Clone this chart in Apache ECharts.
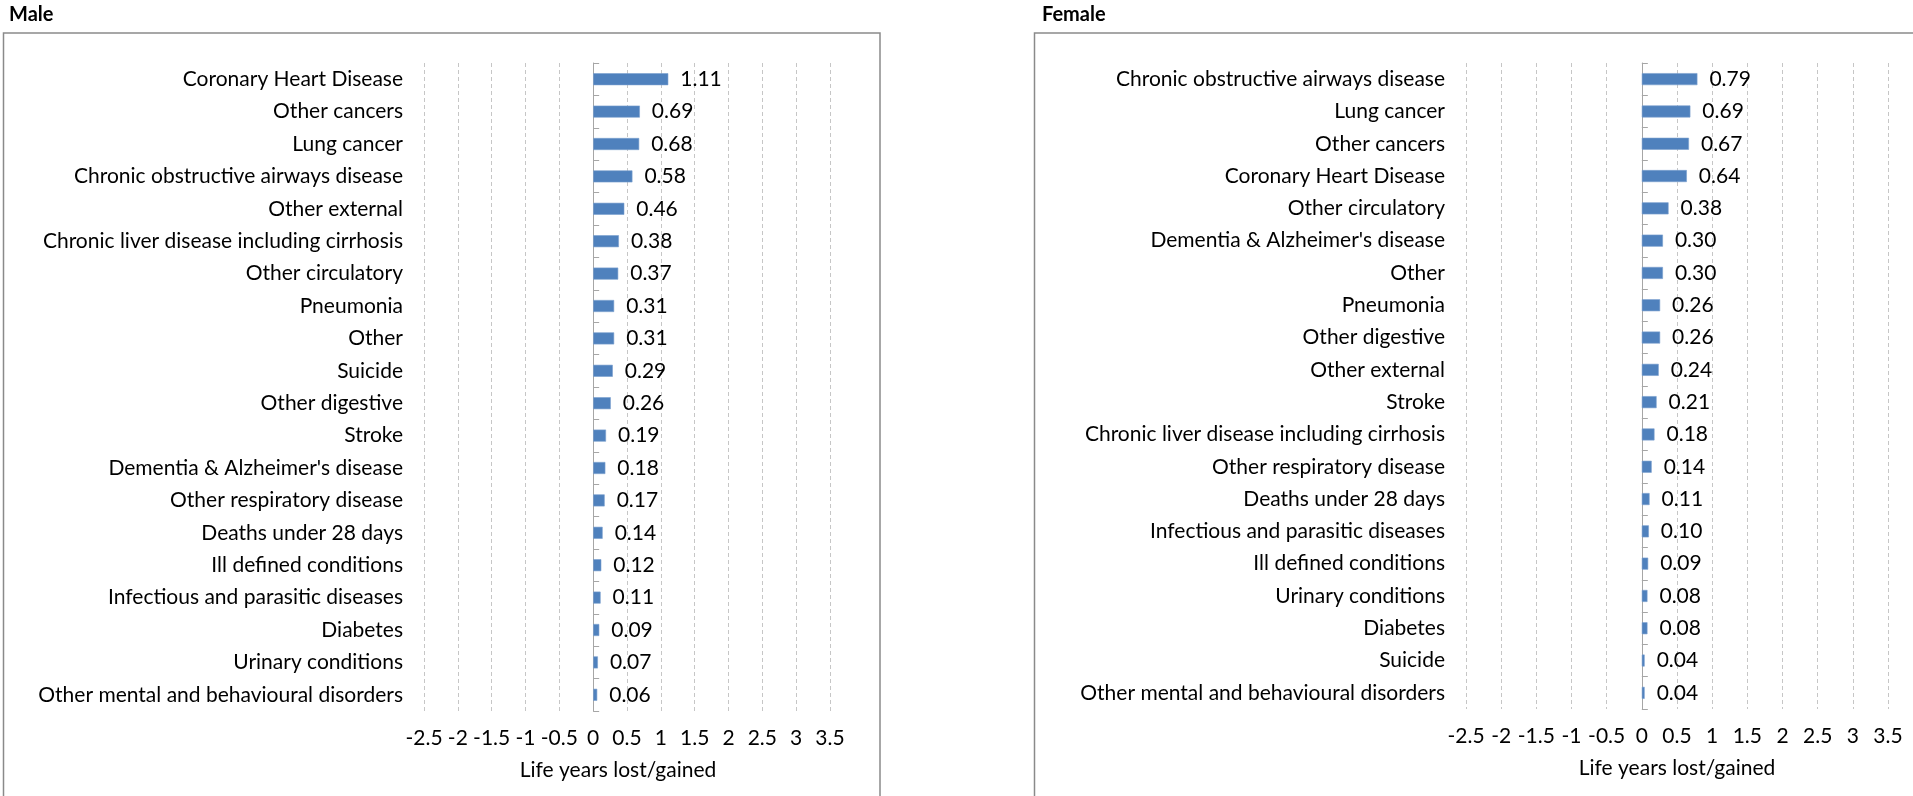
<!DOCTYPE html>
<html>
<head>
<meta charset="utf-8">
<script src="https://cdn.jsdelivr.net/npm/echarts@6/dist/echarts.min.js"></script>
<style>
  html, body { margin: 0; padding: 0; background: #ffffff; }
  #chart { width: 1913px; height: 796px; }
</style>
</head>
<body>
<div id="chart"></div>
<script>
// Life years lost/gained by cause of death
const maleCauses = [
  "Coronary Heart Disease", "Other cancers", "Lung cancer",
  "Chronic obstructive airways disease", "Other external",
  "Chronic liver disease including cirrhosis", "Other circulatory",
  "Pneumonia", "Other", "Suicide", "Other digestive", "Stroke",
  "Dementia & Alzheimer's disease", "Other respiratory disease",
  "Deaths under 28 days", "Ill defined conditions",
  "Infectious and parasitic diseases", "Diabetes", "Urinary conditions",
  "Other mental and behavioural disorders"
];
const maleValues = [1.11, 0.69, 0.68, 0.58, 0.46, 0.38, 0.37, 0.31, 0.31, 0.29,
  0.26, 0.19, 0.18, 0.17, 0.14, 0.12, 0.11, 0.09, 0.07, 0.06];

const femaleCauses = [
  "Chronic obstructive airways disease", "Lung cancer", "Other cancers",
  "Coronary Heart Disease", "Other circulatory",
  "Dementia & Alzheimer's disease", "Other", "Pneumonia", "Other digestive",
  "Other external", "Stroke", "Chronic liver disease including cirrhosis",
  "Other respiratory disease", "Deaths under 28 days",
  "Infectious and parasitic diseases", "Ill defined conditions",
  "Urinary conditions", "Diabetes", "Suicide",
  "Other mental and behavioural disorders"
];
const femaleValues = [0.79, 0.69, 0.67, 0.64, 0.38, 0.30, 0.30, 0.26, 0.26, 0.24,
  0.21, 0.18, 0.14, 0.11, 0.10, 0.09, 0.08, 0.08, 0.04, 0.04];

const panelTitles = ["Male", "Female"];
const axisTitle = "Life years lost/gained";
const xMin = -2.5, xMax = 3.5, xStep = 0.5;

const FONT = "Lato";
const TXT = "#000000";
const FS = 21;

const grids = [
  { left: 424, right: 1913 - 830, top: 63, height: 648 },
  { left: 1466, right: 1913 - 1888, top: 63, height: 646 }
];
const panels = [
  { causes: maleCauses, values: maleValues, namePad: [0, 18, 0, 0] },
  { causes: femaleCauses, values: femaleValues, namePad: [0, 0, 0, 0] }
];

const xAxes = [], yAxes = [], series = [];
panels.forEach((p, i) => {
  xAxes.push({
    type: "value", gridIndex: i, min: xMin, max: xMax, interval: xStep,
    axisLine: { show: false }, axisTick: { show: false },
    splitLine: { show: true, lineStyle: { color: "#c6c6c6", type: [4, 3], width: 1 } },
    axisLabel: { color: TXT, fontFamily: FONT, fontSize: FS, margin: 17 },
    name: axisTitle, nameLocation: "middle", nameGap: 49,
    nameTextStyle: { color: TXT, fontFamily: FONT, fontSize: FS, padding: p.namePad }
  });
  // category labels sit at the far left of the plot area
  yAxes.push({
    type: "category", gridIndex: i, data: p.causes, inverse: true,
    axisLine: { show: false, onZero: false }, axisTick: { show: false },
    axisLabel: { color: TXT, fontFamily: FONT, fontSize: FS, margin: 21 }
  });
  // vertical axis line through zero with category boundary ticks
  yAxes.push({
    type: "category", gridIndex: i, data: p.causes, inverse: true,
    axisLine: { show: true, onZero: true, lineStyle: { color: "#a6a6a6", width: 1 } },
    axisTick: { show: true, length: 6, lineStyle: { color: "#a6a6a6" } },
    axisLabel: { show: false }
  });
  series.push({
    type: "bar", xAxisIndex: i, yAxisIndex: i * 2, data: p.values,
    barWidth: 12,
    itemStyle: { color: "#4f81bd", borderColor: "#7aa0cf", borderWidth: 0.6 },
    label: {
      show: true, position: "right", distance: 12,
      color: TXT, fontFamily: FONT, fontSize: FS,
      formatter: (d) => d.value.toFixed(2)
    },
    silent: true
  });
});

const chart = echarts.init(document.getElementById("chart"), null, { renderer: "canvas" });
chart.setOption({
  backgroundColor: "#ffffff",
  animation: false,
  title: [
    { text: panelTitles[0], left: 9, top: 5, padding: 0,
      textStyle: { fontFamily: FONT, fontWeight: "bold", fontSize: 20, color: TXT } },
    { text: panelTitles[1], left: 1042, top: 5, padding: 0,
      textStyle: { fontFamily: FONT, fontWeight: "bold", fontSize: 20, color: TXT } }
  ],
  graphic: [
    { type: "rect", shape: { x: 3.5, y: 33, width: 876.5, height: 800 }, silent: true,
      style: { fill: null, stroke: "#8a8a8a", lineWidth: 1.5 } },
    { type: "rect", shape: { x: 1034.5, y: 33, width: 900, height: 800 }, silent: true,
      style: { fill: null, stroke: "#8a8a8a", lineWidth: 1.5 } }
  ],
  grid: grids,
  xAxis: xAxes,
  yAxis: yAxes,
  series: series
});
</script>
</body>
</html>
